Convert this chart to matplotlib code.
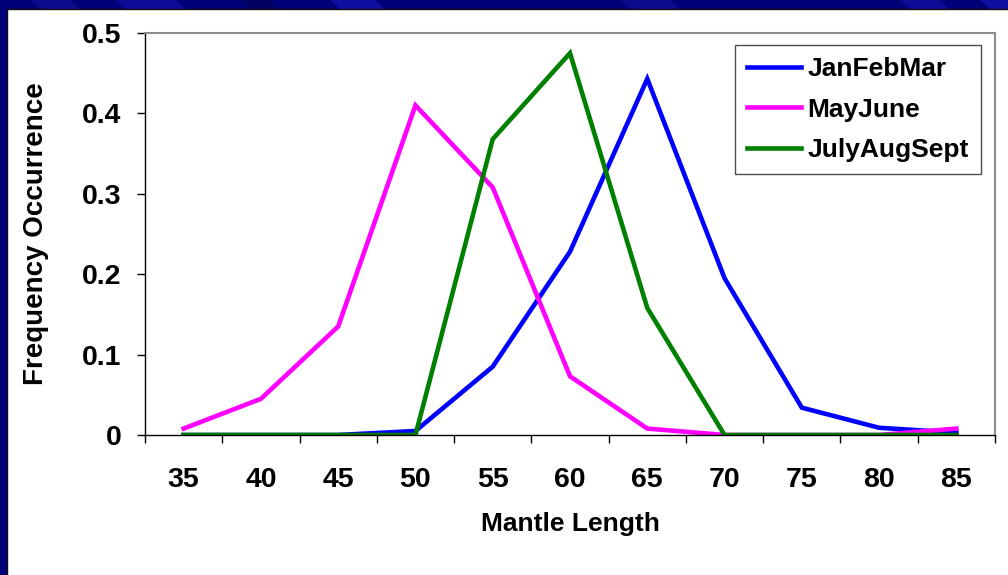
import matplotlib
matplotlib.use("Agg")
import matplotlib.pyplot as plt
from matplotlib.patches import Rectangle, Polygon
import numpy as np

# Mantle length classes and frequency of occurrence per season
mantle_length = ["35", "40", "45", "50", "55", "60", "65", "70", "75", "80", "85"]
jan_feb_mar = [0.0, 0.0, 0.0, 0.005, 0.085, 0.228, 0.443, 0.195, 0.034, 0.009, 0.003]
may_june = [0.008, 0.045, 0.135, 0.41, 0.308, 0.073, 0.008, 0.0, 0.0, 0.0, 0.008]
july_aug_sept = [0.0, 0.0, 0.0, 0.0, 0.368, 0.475, 0.158, 0.0, 0.0, 0.0, 0.0]
y_ticks = [0, 0.1, 0.2, 0.3, 0.4, 0.5]
y_tick_labels = ["0", "0.1", "0.2", "0.3", "0.4", "0.5"]

plt.rcParams["font.family"] = ["Liberation Sans", "DejaVu Sans"]
plt.rcParams["font.weight"] = "bold"

W, H = 1008, 575
fig = plt.figure(figsize=(W / 100, H / 100), dpi=100)
fig.patch.set_facecolor("#000078")

# streaks in the slide background band
for x0, w, c in [(30, 40, "#0a0a8c"), (115, 60, "#0c0c96"), (240, 30, "#000060"),
                 (330, 45, "#1010a0"), (620, 50, "#0a0a8c"), (900, 40, "#0c0c96"),
                 (980, 30, "#1010a0")]:
    fig.patches.append(Polygon([(x0 / W, 1), ((x0 + w) / W, 1),
                                ((x0 + w + 10) / W, 1 - 9 / H), ((x0 + 10) / W, 1 - 9 / H)],
                               closed=True, transform=fig.transFigure,
                               facecolor=c, edgecolor="none", zorder=-6))

# white slide panel
fig.patches.append(Rectangle((7 / W, -0.01), 1.01, 1 - 9 / H + 0.01,
                             transform=fig.transFigure, facecolor="white",
                             edgecolor="#101010", linewidth=1.0, zorder=-5))

ax = fig.add_axes([145 / W, 1 - 435 / H, 850 / W, 402 / H])
ax.set_zorder(2)
ax.set_facecolor("white")

x = np.arange(len(mantle_length))
ax.plot(x, jan_feb_mar, color="#0000ff", lw=3.3, label="JanFebMar", solid_joinstyle="miter")
ax.plot(x, may_june, color="#ff00ff", lw=3.3, label="MayJune", solid_joinstyle="miter")
ax.plot(x, july_aug_sept, color="#008000", lw=3.3, label="JulyAugSept", solid_joinstyle="miter")

ax.set_xlim(-0.5, len(mantle_length) - 0.5)
ax.set_ylim(0, 0.5)

ax.set_xticks(x)
ax.set_xticklabels(mantle_length)
ax.set_xticks(np.arange(-0.5, len(mantle_length), 1.0), minor=True)
ax.tick_params(axis="x", which="major", length=0, pad=23, labelsize=20.5)
ax.tick_params(axis="x", which="minor", length=6, width=1, direction="out", color="black")
ax.set_yticks(y_ticks)
ax.set_yticklabels(y_tick_labels)
ax.tick_params(axis="y", length=6, width=1, direction="out", pad=11, labelsize=20.5)

for lab in ax.get_xticklabels() + ax.get_yticklabels():
    lab.set_fontweight("bold")

ax.spines["left"].set_color("black")
ax.spines["bottom"].set_color("black")
ax.spines["left"].set_linewidth(1)
ax.spines["bottom"].set_linewidth(1)
ax.spines["top"].set_color("#8c8c8c")
ax.spines["right"].set_color("#8c8c8c")
ax.spines["top"].set_linewidth(1.5)
ax.spines["right"].set_linewidth(1.5)

ax.set_xlabel("Mantle Length", fontsize=19, fontweight="bold", labelpad=14)
ax.set_ylabel("Frequency Occurrence", fontsize=20, fontweight="bold", labelpad=24)

leg = ax.legend(loc="upper right", bbox_to_anchor=(0.9835, 0.97), borderaxespad=0,
                fontsize=19, frameon=True, fancybox=False, shadow=False,
                handlelength=2.05, handletextpad=0.25, borderpad=0.45,
                labelspacing=0.63)
leg.get_frame().set_edgecolor("#202020")
leg.get_frame().set_linewidth(1)
for t in leg.get_texts():
    t.set_fontweight("bold")

fig.savefig("out.png", dpi=100, facecolor=fig.get_facecolor())
